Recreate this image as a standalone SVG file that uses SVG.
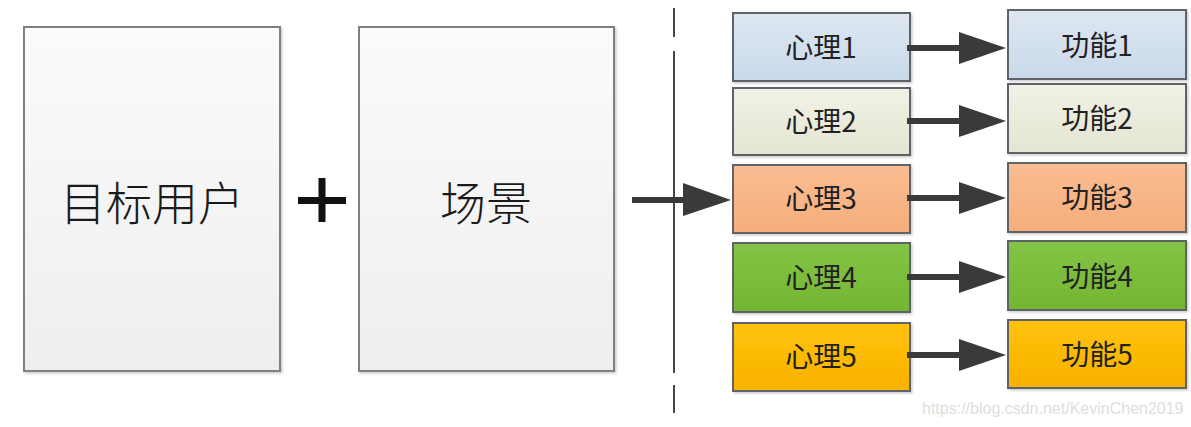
<svg xmlns="http://www.w3.org/2000/svg" width="1191" height="427" viewBox="0 0 1191 427">
<style>
.big{stroke:#808080;stroke-width:2;fill:url(#gBig)}
.bt{font-family:"Noto Sans CJK SC","Liberation Sans",sans-serif;font-size:46px;font-weight:300;fill:#1a1a1a;text-anchor:middle;dominant-baseline:central}
.sm{stroke:#5f6368;stroke-width:2}
.st{font-family:"Noto Sans CJK SC","Liberation Sans",sans-serif;font-size:28px;font-weight:400;fill:#222;text-anchor:middle;dominant-baseline:central}
.conn{stroke:#3a3a3a;stroke-width:6;fill:none}
.head{fill:#3a3a3a}
.wm{font-family:"Liberation Sans",Arial,sans-serif;font-size:16px;fill:#dedede}
</style>
<defs>
<linearGradient id="gBig" x1="0" y1="0" x2="0" y2="1"><stop offset="0" stop-color="#fbfbfb"/><stop offset="1" stop-color="#eeeeee"/></linearGradient>
<linearGradient id="g1" x1="0" y1="0" x2="0" y2="1"><stop offset="0" stop-color="#dde7f2"/><stop offset="1" stop-color="#c9d9ea"/></linearGradient>
<linearGradient id="g2" x1="0" y1="0" x2="0" y2="1"><stop offset="0" stop-color="#f1f1e6"/><stop offset="1" stop-color="#e5e5d3"/></linearGradient>
<linearGradient id="g3" x1="0" y1="0" x2="0" y2="1"><stop offset="0" stop-color="#fabd92"/><stop offset="1" stop-color="#f6ad7c"/></linearGradient>
<linearGradient id="g4" x1="0" y1="0" x2="0" y2="1"><stop offset="0" stop-color="#84c446"/><stop offset="1" stop-color="#74b532"/></linearGradient>
<linearGradient id="g5" x1="0" y1="0" x2="0" y2="1"><stop offset="0" stop-color="#ffc20a"/><stop offset="1" stop-color="#f8b200"/></linearGradient>
<filter id="sh" x="-5%" y="-5%" width="115%" height="115%"><feDropShadow dx="1.5" dy="1.5" stdDeviation="1.2" flood-color="#000" flood-opacity="0.2"/></filter>
</defs>

<g id="user"><rect class="big" x="24" y="27" width="256" height="344" filter="url(#sh)"/><text class="bt" x="152" y="200">目标用户</text></g>
<g id="plus"><rect x="298" y="197" width="48" height="7" fill="#111"/><rect x="318.5" y="178" width="7" height="44" fill="#111"/></g>
<g id="scene"><rect class="big" x="359" y="27" width="255" height="344" filter="url(#sh)"/><text class="bt" x="486" y="200">场景</text></g>

<g id="divider"><path d="M674 8V37M674 51V373M674 385V413" stroke="#444" stroke-width="2"/></g>

<g id="xl1"><rect class="sm" x="733" y="13" width="177" height="68" fill="url(#g1)" filter="url(#sh)"/><text class="st" x="821" y="46">心理1</text></g>
<g id="xl2"><rect class="sm" x="733" y="88" width="177" height="67" fill="url(#g2)" filter="url(#sh)"/><text class="st" x="821" y="120">心理2</text></g>
<g id="xl3"><rect class="sm" x="733" y="165" width="177" height="68" fill="url(#g3)" filter="url(#sh)"/><text class="st" x="821" y="197">心理3</text></g>
<g id="xl4"><rect class="sm" x="733" y="243" width="177" height="69" fill="url(#g4)" filter="url(#sh)"/><text class="st" x="821" y="276">心理4</text></g>
<g id="xl5"><rect class="sm" x="733" y="323" width="177" height="68" fill="url(#g5)" filter="url(#sh)"/><text class="st" x="821" y="355">心理5</text></g>

<g id="gn1"><rect class="sm" x="1008" y="10" width="178" height="69" fill="url(#g1)" filter="url(#sh)"/><text class="st" x="1097" y="44">功能1</text></g>
<g id="gn2"><rect class="sm" x="1008" y="84" width="178" height="69" fill="url(#g2)" filter="url(#sh)"/><text class="st" x="1097" y="117">功能2</text></g>
<g id="gn3"><rect class="sm" x="1008" y="163" width="178" height="69" fill="url(#g3)" filter="url(#sh)"/><text class="st" x="1097" y="196">功能3</text></g>
<g id="gn4"><rect class="sm" x="1008" y="241" width="178" height="69" fill="url(#g4)" filter="url(#sh)"/><text class="st" x="1097" y="275">功能4</text></g>
<g id="gn5"><rect class="sm" x="1008" y="320" width="178" height="68" fill="url(#g5)" filter="url(#sh)"/><text class="st" x="1097" y="353">功能5</text></g>

<g id="connectors">
<path class="conn" d="M632 200H686"/><path class="head" d="M683 183L731 200L683 216Z"/>
<path class="conn" d="M907 48H962"/><path class="head" d="M959 32L1006 48L959 64Z"/>
<path class="conn" d="M907 121H962"/><path class="head" d="M959 105L1006 121L959 137Z"/>
<path class="conn" d="M907 198H962"/><path class="head" d="M959 182L1006 198L959 214Z"/>
<path class="conn" d="M907 277H962"/><path class="head" d="M959 261L1006 277L959 293Z"/>
<path class="conn" d="M907 355H962"/><path class="head" d="M959 339L1006 355L959 371Z"/>
</g>

<text class="wm" x="922" y="414">https://blog.csdn.net/KevinChen2019</text>
</svg>
